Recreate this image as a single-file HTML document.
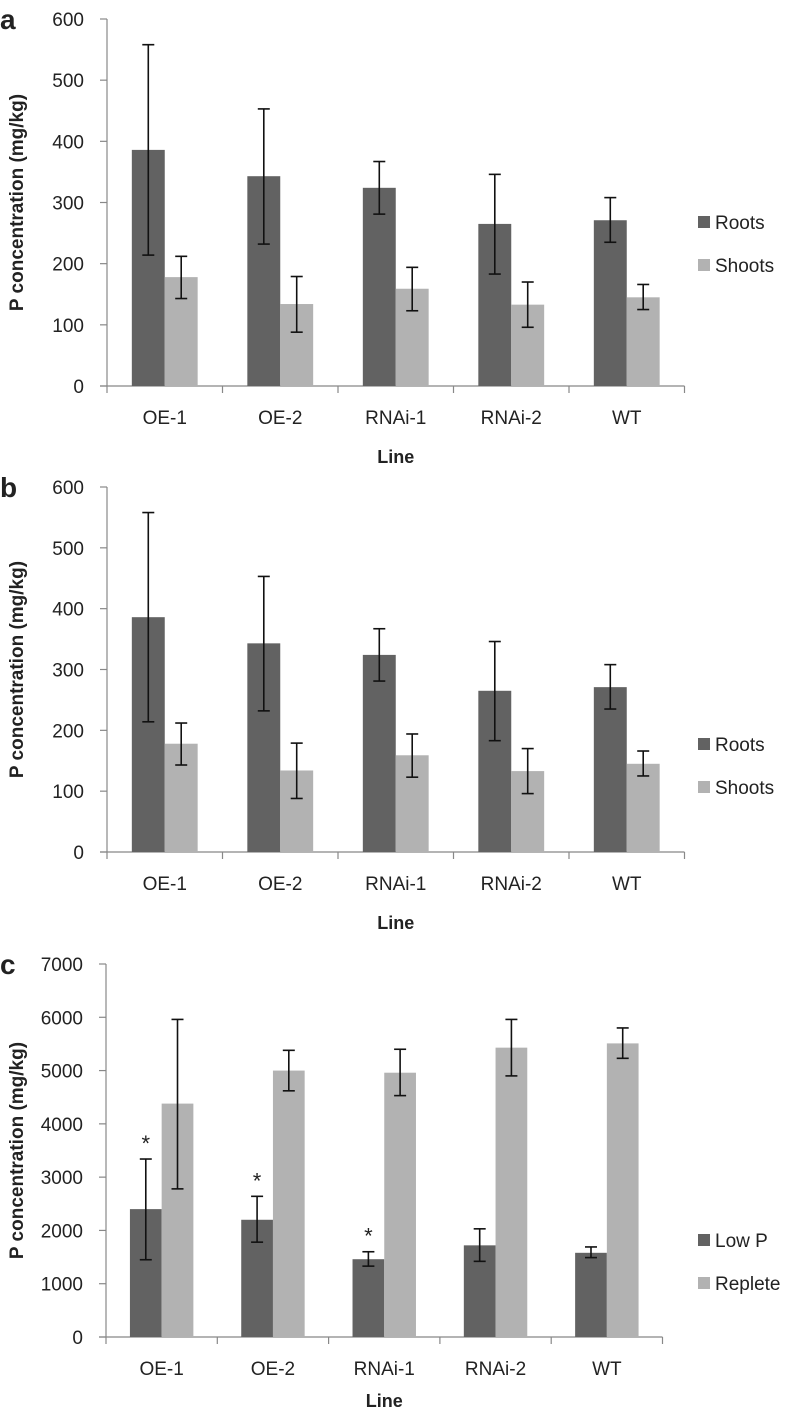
<!DOCTYPE html>
<html><head><meta charset="utf-8"><style>
body{margin:0;background:#fff;}
svg text{font-family:"Liberation Sans",sans-serif;fill:#222;}
</style></head><body>
<svg id="s" width="786" height="1412"></svg>
<script>
const categories=["OE-1","OE-2","RNAi-1","RNAi-2","WT"];
const rootsMean=[386,343,324,265,271];
const rootsLow=[214,232,281,183,235];
const rootsHigh=[558,453,367,346,308];
const shootsMean=[178,134,159,133,145];
const shootsLow=[143,88,123,96,125];
const shootsHigh=[212,179,194,170,166];
const lowPMean=[2400,2200,1460,1720,1580];
const lowPLow=[1450,1780,1330,1420,1490];
const lowPHigh=[3340,2640,1600,2030,1690];
const repleteMean=[4380,5000,4960,5430,5510];
const repleteLow=[2780,4620,4530,4900,5230];
const repleteHigh=[5960,5380,5400,5960,5800];
const sigStars=[true,true,true,false,false];
const ticks600=[0,100,200,300,400,500,600];
const ticks7000=[0,1000,2000,3000,4000,5000,6000,7000];
const NS="http://www.w3.org/2000/svg";
const svg=document.getElementById('s');
function mk(t,a,p){const e=document.createElementNS(NS,t);for(const k in a)e.setAttribute(k,a[k]);(p||svg).appendChild(e);return e;}
function chart(o){
  const g=mk('g',{});
  
  
  const y=v=>o.y0-(v/o.max)*(o.y0-o.yTop);
  const x=i=>o.x0+o.step*(i+0.5);
  const xEnd=o.x0+o.step*categories.length;
  const pl=mk('text',{x:0,y:o.yTop+10,'font-size':28,'font-weight':'bold'},g);pl.textContent=o.id;
  
  
  mk('line',{x1:o.x0,y1:o.yTop,x2:o.x0,y2:o.y0,stroke:'#888','stroke-width':1.2},g);
  o.ticks.forEach(t=>{
    mk('line',{x1:o.x0-7,y1:y(t),x2:o.x0,y2:y(t),stroke:'#888','stroke-width':1.2},g);
    const tx=mk('text',{x:o.x0-23,y:y(t)+7,'text-anchor':'end','font-size':19},g);tx.textContent=t;
    
    
  });
  mk('line',{x1:o.x0-7,y1:o.y0,x2:xEnd,y2:o.y0,stroke:'#888','stroke-width':1.2},g);
  for(let i=0;i<=categories.length;i++)mk('line',{x1:o.x0+o.step*i,y1:o.y0,x2:o.x0+o.step*i,y2:o.y0+7,stroke:'#888','stroke-width':1.2},g);
  const bw=o.step*0.285;
  const series=[[o.m1,o.l1,o.h1,'#626262'],[o.m2,o.l2,o.h2,'#b2b2b2']];
  categories.forEach((c,i)=>{
    series.forEach((s,k)=>{
      const bx=x(i)-bw+k*bw;
      const r=mk('rect',{x:bx,y:y(s[0][i]),width:bw,height:o.y0-y(s[0][i]),fill:s[3]},g);
      
      
      const cx=bx+bw/2;
      mk('line',{x1:cx,y1:y(s[1][i]),x2:cx,y2:y(s[2][i]),stroke:'#111','stroke-width':1.6},g);
      mk('line',{x1:cx-6,y1:y(s[1][i]),x2:cx+6,y2:y(s[1][i]),stroke:'#111','stroke-width':1.6},g);
      mk('line',{x1:cx-6,y1:y(s[2][i]),x2:cx+6,y2:y(s[2][i]),stroke:'#111','stroke-width':1.6},g);
    });
    if(o.stars&&o.stars[i]){const st=mk('text',{x:x(i)-bw/2,y:y(o.h1[i])-8,'text-anchor':'middle','font-size':22},g);st.textContent='*';
      
      }
    const lt=mk('text',{x:x(i),y:o.y0+38,'text-anchor':'middle','font-size':19},g);lt.textContent=c;
    
    
  });
  const xt=mk('text',{x:o.x0+o.step*2.5,y:o.y0+(o.titleOff||77),'text-anchor':'middle','font-size':18,'font-weight':'bold'},g);xt.textContent='Line';
  
  
  const yc=(o.y0+o.yTop)/2;
  const yt=mk('text',{x:23,y:yc,'text-anchor':'middle','font-size':19,'font-weight':'bold',transform:`rotate(-90 23 ${yc})`},g);yt.textContent='P concentration (mg/kg)';
  
  
  [[o.n1,'#626262',o.legY],[o.n2,'#b2b2b2',o.legY+43]].forEach(l=>{
    const le=mk('g',{},g);
    
    
    mk('rect',{x:o.legX,y:l[2]-6,width:12,height:12,fill:l[1]},le);
    const t=mk('text',{x:o.legX+17,y:l[2]+7,'font-size':19},le);t.textContent=l[0];
  });
}
chart({id:'a',x0:107,step:115.5,y0:386,yTop:19,max:600,ticks:ticks600,m1:rootsMean,l1:rootsLow,h1:rootsHigh,m2:shootsMean,l2:shootsLow,h2:shootsHigh,n1:'Roots',n2:'Shoots',legX:698,legY:222});
chart({id:'b',x0:107,step:115.5,y0:852,yTop:487,max:600,ticks:ticks600,m1:rootsMean,l1:rootsLow,h1:rootsHigh,m2:shootsMean,l2:shootsLow,h2:shootsHigh,n1:'Roots',n2:'Shoots',legX:698,legY:744});
chart({id:'c',x0:106,step:111.3,y0:1337,yTop:964,max:7000,ticks:ticks7000,m1:lowPMean,l1:lowPLow,h1:lowPHigh,m2:repleteMean,l2:repleteLow,h2:repleteHigh,n1:'Low P',n2:'Replete',legX:698,legY:1240,stars:sigStars,titleOff:70});
</script>
</body></html>
